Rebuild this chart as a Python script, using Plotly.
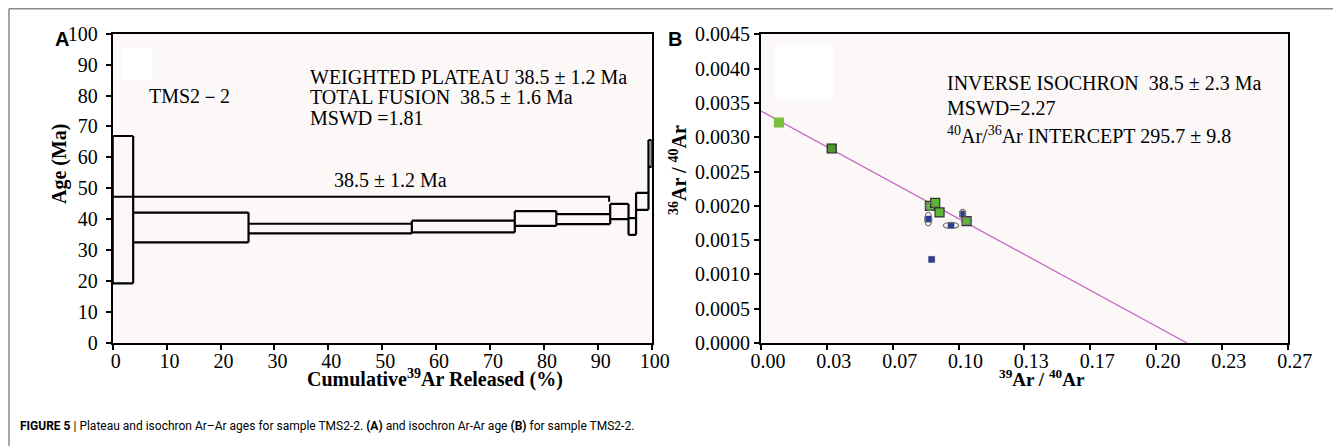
import plotly.graph_objects as go

W, H = 1341, 448
OFF = 8  # page body margin of the browser

# ---------------- Panel A: age spectrum ----------------
step_x0 = [0.0, 3.8, 25.2, 55.5, 74.6, 82.3, 92.3, 95.7, 97.1, 99.4]
step_x1 = [3.8, 25.2, 55.5, 74.6, 82.3, 92.3, 95.7, 97.1, 99.4, 100.0]
age_lo = [19.2, 32.5, 35.4, 35.7, 37.8, 38.4, 40.0, 34.9, 43.0, 56.9]
age_hi = [66.9, 42.1, 38.5, 39.5, 42.6, 41.6, 44.9, 40.3, 48.5, 65.6]
plateau_x = [0.0, 92.1]
plateau_age = 47.2
plateau_tick = 45.6

# ---------------- Panel B: inverse isochron ----------------
green_x = [0.0091, 0.0358, 0.0855, 0.0882, 0.0904, 0.1041]
green_y = [0.003214, 0.002835, 0.00200, 0.002043, 0.001903, 0.001777]
green_err_y = [0.00007, 0.00005, 0.00003, 0.00003, 0.00003, 0.00003]
blue_x = [0.0847, 0.1021, 0.0962, 0.0864]
blue_y = [0.001806, 0.001879, 0.001714, 0.001219]
ell_x = [0.0847, 0.0962, 0.1021, 0.0855, 0.1041]
ell_y = [0.001806, 0.001714, 0.001879, 0.00199, 0.001777]
ell_hx = [0.0018, 0.0039, 0.0013, 0.0020, 0.0026]
ell_hy = [0.000100, 0.000045, 0.000070, 0.000060, 0.000050]
iso_line_x = [0.0, 0.2157]
iso_line_y = [0.003382, 0.0]
b_tickvals = [0, 1/30, 2/30, 3/30, 4/30, 5/30, 6/30, 7/30, 8/30]
b_ticktext = ["0.00", "0.03", "0.07", "0.10", "0.13", "0.17", "0.20", "0.23", "0.27"]


def px(x):
    return (x - OFF) / W


def py(y):
    return 1 - (y - OFF) / H


SERIF = "Liberation Serif, Times New Roman, serif"
SANS = "Liberation Sans, Arial, sans-serif"

fig = go.Figure()

# spectrum: horizontal tops/bottoms of every step, vertical edges spanning adjacent steps
bx, by = [], []
for x0, x1, lo, hi in zip(step_x0, step_x1, age_lo, age_hi):
    bx += [x0, x1, None, x0, x1, None]
    by += [lo, lo, None, hi, hi, None]
n = len(step_x0)
for i in range(n + 1):
    if i == 0:
        xe, lo, hi = step_x0[0], age_lo[0], age_hi[0]
    elif i == n:
        xe, lo, hi = step_x1[-1], age_lo[-1], age_hi[-1]
    else:
        xe = step_x0[i]
        lo = min(age_lo[i - 1], age_lo[i])
        hi = max(age_hi[i - 1], age_hi[i])
    bx += [xe, xe, None]
    by += [lo, hi, None]
fig.add_trace(go.Scatter(x=bx, y=by, mode="lines", line=dict(color="black", width=2.2),
                         xaxis="x", yaxis="y", showlegend=False, hoverinfo="skip"))
# plateau line with end tick
fig.add_trace(go.Scatter(x=[plateau_x[0], plateau_x[1], plateau_x[1]],
                         y=[plateau_age, plateau_age, plateau_tick],
                         mode="lines", line=dict(color="black", width=2),
                         xaxis="x", yaxis="y", showlegend=False, hoverinfo="skip"))

# isochron line
fig.add_trace(go.Scatter(x=iso_line_x, y=iso_line_y, mode="lines",
                         line=dict(color="#c46ac4", width=1.3),
                         xaxis="x2", yaxis="y2", showlegend=False, hoverinfo="skip"))
# blue points
fig.add_trace(go.Scatter(x=blue_x, y=blue_y, mode="markers",
                         marker=dict(symbol="square", size=6, color="#2c3f94",
                                     line=dict(color="#1b2766", width=0.5)),
                         xaxis="x2", yaxis="y2", showlegend=False))
# green points
fig.add_trace(go.Scatter(x=green_x, y=green_y, mode="markers",
                         error_y=dict(type="data", array=green_err_y, color="#333333",
                                      thickness=1, width=0),
                         marker=dict(symbol="square", size=9,
                                     color=["#78c23c", "#4e9a2c", "#5fb834", "#5fb834", "#5fb834", "#5fb834"],
                                     line=dict(color=["#78c23c", "#222222", "#333333", "#333333", "#333333", "#333333"],
                                               width=1.2)),
                         xaxis="x2", yaxis="y2", showlegend=False))

shapes = []
for cx, cy, hx, hy in zip(ell_x, ell_y, ell_hx, ell_hy):
    shapes.append(dict(type="circle", xref="x2", yref="y2",
                       x0=cx - hx, x1=cx + hx, y0=cy - hy, y1=cy + hy,
                       line=dict(color="#777777", width=1.2), layer="above"))
# blank white boxes inside plots
shapes.append(dict(type="rect", xref="paper", yref="paper", x0=px(122), x1=px(152),
                   y0=py(80), y1=py(48), fillcolor="white", line=dict(width=0), layer="below"))
shapes.append(dict(type="rect", xref="paper", yref="paper", x0=px(775), x1=px(833),
                   y0=py(100), y1=py(44), fillcolor="white", line=dict(width=0), layer="below"))
# figure frame
shapes.append(dict(type="line", xref="paper", yref="paper", x0=px(9), x1=1.0, y0=py(8.8), y1=py(8.8),
                   line=dict(color="#8a8a8a", width=1.5)))
shapes.append(dict(type="line", xref="paper", yref="paper", x0=px(9), x1=px(9), y0=py(8.8), y1=py(446),
                   line=dict(color="#8a8a8a", width=1.5)))

ann = []


def text(x, y, s, size=20, font=SERIF, xanchor="left", angle=0, color="black"):
    ann.append(dict(x=px(x), y=py(y), xref="paper", yref="paper", text=s, showarrow=False,
                    xanchor=xanchor, yanchor="middle", textangle=angle,
                    font=dict(family=font, size=size, color=color)))


text(62, 39, "<b>A</b>", size=20, font=SANS, xanchor="center")
text(675, 39, "<b>B</b>", size=20, font=SANS, xanchor="center")
text(147, 96, "TMS2－2", size=20)
text(308, 77, "WEIGHTED PLATEAU 38.5 ± 1.2 Ma", size=20)
text(308, 97, "TOTAL FUSION  38.5 ± 1.6 Ma", size=20)
text(308, 118, "MSWD =1.81", size=20)
text(390, 180, "38.5 ± 1.2 Ma", size=20, xanchor="center")
text(945, 83, "INVERSE ISOCHRON  38.5 ± 2.3 Ma", size=20)
text(945, 108, "MSWD=2.27", size=20)
text(945, 135, "<sup>40</sup>Ar/<sup>36</sup>Ar INTERCEPT 295.7 ± 9.8", size=20)
text(59, 164, "<b>Age (Ma)</b>", size=20, xanchor="center", angle=-90)
text(305, 378, "<b>Cumulative<sup>39</sup>Ar Released (%)</b>", size=20, xanchor="left")
text(678, 170, "<b><sup>36</sup>Ar / <sup>40</sup>Ar</b>", size=20, xanchor="center", angle=-90)
text(1042, 378, "<b><sup>39</sup>Ar / <sup>40</sup>Ar</b>", size=19, xanchor="center")
text(18, 426, "<b>FIGURE 5</b> | Plateau and isochron Ar–Ar ages for sample TMS2-2. <b>(A)</b> and isochron Ar-Ar age <b>(B)</b> for sample TMS2-2.",
     size=12, font="Roboto, Liberation Sans, Arial, sans-serif")

axis_common = dict(showgrid=False, zeroline=False, showline=True, linecolor="black", linewidth=2,
                   mirror=True, ticks="outside", ticklen=5, tickwidth=2, tickcolor="black",
                   automargin=False,
                   tickfont=dict(family=SERIF, size=20, color="black"))

fig.update_layout(
    width=W, height=H, margin=dict(l=0, r=0, t=0, b=0, pad=0, autoexpand=False),
    paper_bgcolor="white", plot_bgcolor="#fcf8f7",
    xaxis=dict(domain=[px(112.7), px(651.7)], range=[0, 100], dtick=10, anchor="y",
               ticklabelstandoff=-6, ticklabelshift=3, **axis_common),
    yaxis=dict(domain=[py(342.7), py(33.7)], range=[0, 100], dtick=10, anchor="x",
               ticklabelstandoff=4, **axis_common),
    xaxis2=dict(domain=[px(761), px(1287.7)], range=[0, 8/30], tickvals=b_tickvals, ticktext=b_ticktext,
                anchor="y2", ticklabelstandoff=-6, ticklabelshift=7, **axis_common),
    yaxis2=dict(domain=[py(343), py(34.3)], range=[0, 0.0045], dtick=0.0005, tickformat=".4f",
                anchor="x2", **axis_common),
    shapes=shapes, annotations=ann,
)

fig.write_html("out.html")
